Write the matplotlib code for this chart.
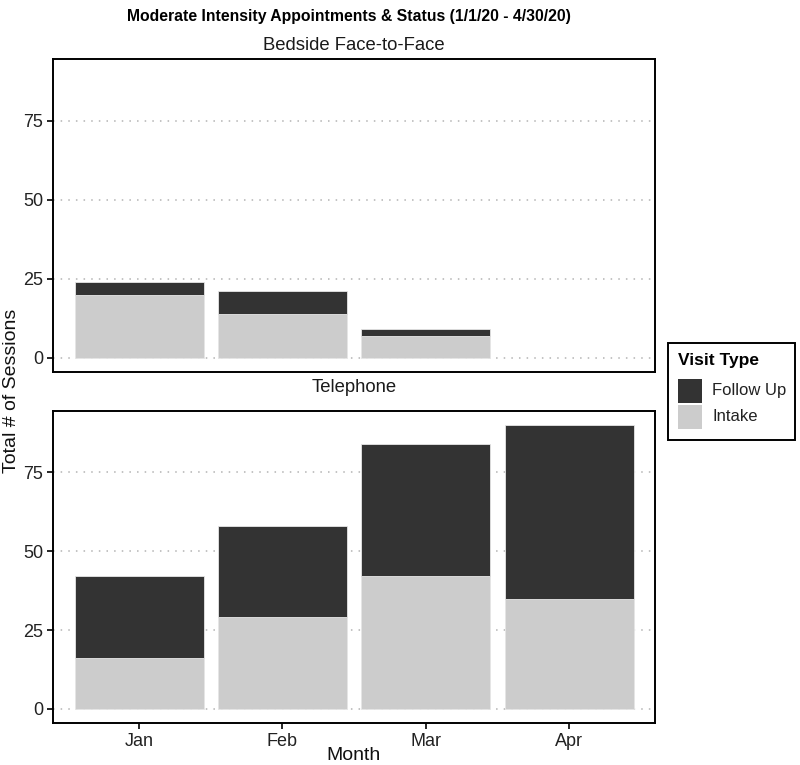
import matplotlib
matplotlib.use("Agg")
import matplotlib.pyplot as plt
from matplotlib.patches import Rectangle
import numpy as np

plt.rcParams['font.family'] = ['Liberation Sans', 'DejaVu Sans']

months = ["Jan", "Feb", "Mar", "Apr"]
facets = ["Bedside Face-to-Face", "Telephone"]
# Bedside Face-to-Face
bedside_intake = [20, 14, 7, 0]
bedside_followup = [4, 7, 2, 0]
# Telephone
phone_intake = [16, 29, 42, 35]
phone_followup = [26, 29, 42, 55]
series = ["Follow Up", "Intake"]
col_follow = "#333333"
col_intake = "#cccccc"
yticks = [0, 25, 50, 75]

W, H = 800, 765
fig = plt.figure(figsize=(W / 100, H / 100), dpi=100)

def fx(px):
    return px / W

def fy(py):
    return 1 - py / H

ax_top = fig.add_axes([fx(53), fy(372), fx(655) - fx(53), fy(59) - fy(372)])
ax_bot = fig.add_axes([fx(53), fy(723), fx(655) - fx(53), fy(411) - fy(723)])

x = np.arange(1, len(months) + 1)
data = [(ax_top, bedside_intake, bedside_followup), (ax_bot, phone_intake, phone_followup)]
for ax, intake, follow in data:
    intake = np.array(intake)
    follow = np.array(follow)
    mask = (intake + follow) > 0
    ax.bar(x[mask], intake[mask], width=0.9, color=col_intake, edgecolor="#e6e6e6", linewidth=0.6, zorder=3)
    ax.bar(x[mask], follow[mask], bottom=intake[mask], width=0.9, color=col_follow, edgecolor="#e6e6e6", linewidth=0.6, zorder=3)
    ax.set_xlim(0.4, 4.6)
    ax.set_ylim(-4.5, 94.5)
    ax.set_yticks(yticks)
    ax.set_yticklabels([str(t) for t in yticks], fontsize=13, color="#222222")
    for t in yticks:
        ax.axhline(t, color="#b3b3b3", linestyle=(0, (1, 4)), linewidth=1.1, zorder=1)
    for s in ax.spines.values():
        s.set_linewidth(1.4)
        s.set_color("black")
    ax.tick_params(axis="y", length=4, width=1.2, pad=3)
    ax.set_xticks(x)

ax_top.tick_params(axis="x", length=0, labelbottom=False)
ax_bot.set_xticklabels(months, fontsize=13, color="#222222")
ax_bot.tick_params(axis="x", length=4, width=1.2, pad=3)

# strip labels
fig.text(fx(354), fy(45), facets[0], ha="center", va="center", fontsize=13.3, color="#1a1a1a")
fig.text(fx(354), fy(388), facets[1], ha="center", va="center", fontsize=13.3, color="#1a1a1a")

# title
fig.text(fx(349), fy(17), "Moderate Intensity Appointments & Status (1/1/20 - 4/30/20)",
         ha="center", va="center", fontsize=11.3, fontweight="bold",
         family=['Liberation Sans Narrow', 'Liberation Sans', 'DejaVu Sans'])

# axis labels
fig.text(fx(354), fy(756), "Month", ha="center", va="center", fontsize=14, color="#111111")
fig.text(fx(12), fy(391), "Total # of Sessions", ha="center", va="center", rotation=90,
         fontsize=14, color="#111111")

# legend
fig.patches.append(Rectangle((fx(668), fy(440)), fx(795) - fx(668), fy(343) - fy(440),
                             transform=fig.transFigure, facecolor="white", edgecolor="black",
                             linewidth=1.4, figure=fig))
fig.text(fx(678), fy(361), "Visit Type", ha="left", va="center", fontsize=12.5, fontweight="bold")
cols = [col_follow, col_intake]
tops = [379, 405]
for lab, c, t in zip(series, cols, tops):
    fig.patches.append(Rectangle((fx(678), fy(t + 24)), fx(702) - fx(678), fy(t) - fy(t + 24),
                                 transform=fig.transFigure, facecolor=c, edgecolor="none", figure=fig))
    fig.text(fx(712), fy(t + 12), lab, ha="left", va="center", fontsize=12, color="#222222")

fig.savefig("out.png", dpi=100)
